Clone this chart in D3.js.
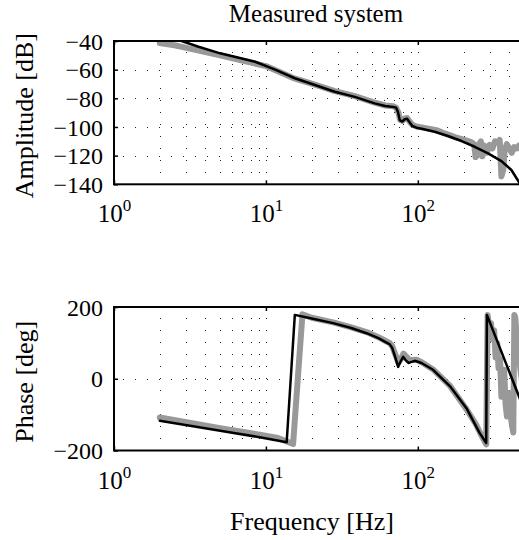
<!DOCTYPE html>
<html>
<head>
<meta charset="utf-8">
<script src="https://cdn.jsdelivr.net/npm/d3@7"></script>
<style>
  body { margin: 0; background: #fff; }
  svg, svg text { font-family: "Liberation Serif", "Times New Roman", serif; }
</style>
</head>
<body>
<div id="chart"></div>
<script>
// Bode plot of a measured system (grey) and its fitted model (black)

// amplitude, model
const modelAmpFreq = [2, 2.79, 3.6, 5, 8.5, 11.5, 15.5, 21, 28.4, 38.5, 52, 61, 69, 72, 74, 76, 79, 82, 85, 88, 92, 98, 106, 129, 158, 194, 237, 290, 355, 413, 462, 500];
const modelAmp = [-35.5, -40, -44, -48.6, -54.5, -60, -66, -70.7, -75.4, -79, -83.5, -85.4, -86, -86.6, -89.5, -95.2, -96.2, -94.6, -94.2, -96.6, -99.3, -100.5, -101.2, -103.3, -106.3, -109.8, -113.8, -118.4, -123.8, -130, -138.2, -146];

// amplitude, measured
const measAmpFreq = [2, 2.5, 3, 4, 5, 7, 10, 15, 21, 28.4, 38.5, 52, 61, 69, 72, 74.5, 76.5, 79, 82, 85, 88, 92, 98, 106, 115, 125, 135, 150, 165, 180, 195, 210, 225, 235, 240, 245, 250, 260, 266, 275, 285, 297, 310, 322, 335, 346, 355, 365, 373, 385, 401, 415, 430, 445, 462, 480, 500];
const measAmp = [-41.5, -43, -44.8, -47.7, -50, -53.7, -57.5, -65.7, -70.5, -75, -78.5, -83, -85, -85.6, -86.5, -90, -95, -95.8, -94, -93.8, -96, -98.5, -99.7, -100.3, -101, -101.8, -102.5, -104.5, -106, -107.5, -108.5, -109.5, -110.5, -112, -121, -120, -113, -110, -120.5, -113, -118, -112.5, -115, -110, -111, -109, -134.5, -130, -116, -112, -115, -118, -114, -115, -113, -116, -118];

// phase, model
const modelPhaseFreq = [2, 5, 9.1, 13.7, 15.5, 20, 27.7, 36, 46, 55, 61, 65.4, 68, 71, 74.2, 77, 80, 83, 86.7, 91, 95.5, 105.7, 126, 163, 209, 255, 282, 285, 500];
const modelPhase = [-117, -145, -163, -177, 178, 168, 155, 142, 127, 113, 103, 96, 85, 60, 33, 48, 61, 52, 44, 47, 50, 44, 25, -21, -82, -151, -179, 178, -85];

// phase, measured
const measPhaseFreq = [2, 5, 9.1, 12, 15.1, 17.4, 20, 27.7, 36, 46, 55, 61, 65.4, 68, 71, 74.5, 77.5, 80.5, 84, 88, 93, 98, 106, 126, 163, 209, 240, 262, 282, 288, 296, 303, 310, 318, 325, 333, 340, 348, 355, 362, 370, 378, 386, 395, 405, 415, 425, 432, 438, 448, 460, 475, 490, 500];
const measPhase = [-108, -138, -156, -165, -182, 180, 170, 157, 144, 130, 116, 106, 99, 90, 68, 45, 55, 70, 62, 52, 52, 53, 46, 26, -20, -85, -125, -158, -183, 178, 140, 155, 110, 135, 60, 100, 30, 55, -50, -10, 25, -70, -105, -40, -90, -125, -150, 178, 170, 120, 70, 20, -20, -50];

// ticks and labels
const freqMajor = [1, 10, 100];
const ampTicks = [-140, -120, -100, -80, -60, -40];
const phaseTicks = [-200, 0, 200];
const titleText = 'Measured system';
const ampLabel = 'Amplitude [dB]';
const phaseLabel = 'Phase [deg]';
const freqLabel = 'Frequency [Hz]';

const serif = '"Liberation Serif", "Times New Roman", serif';
const width = 519, height = 540;
const left = 114, right = 524;

const svg = d3.select('#chart').append('svg')
  .attr('width', width)
  .attr('height', height);

const x = d3.scaleLog().domain([1, 500]).range([left, right]);

function zip(fs, vs) {
  return fs.map((f, i) => [f, vs[i]]);
}

function drawPanel(id, y, yTicks, series, yLabel, labelBaseline) {
  const [y0, y1] = y.range(); // bottom, top
  const g = svg.append('g');

  g.append('clipPath').attr('id', 'clip-' + id)
    .append('rect')
    .attr('x', left).attr('y', y1)
    .attr('width', right - left).attr('height', y0 - y1);

  // dotted grid
  const grid = g.append('g')
    .attr('stroke', '#222')
    .attr('stroke-width', 1)
    .attr('stroke-dasharray', '1,11');

  grid.selectAll('.vgrid')
    .data(x.ticks().filter(d => d > 1 && d < 500))
    .enter().append('line')
    .attr('x1', d => Math.round(x(d)) + 0.5)
    .attr('x2', d => Math.round(x(d)) + 0.5)
    .attr('y1', y1 + 11)
    .attr('y2', y0);

  grid.selectAll('.hgrid')
    .data(yTicks.slice(1, -1))
    .enter().append('line')
    .attr('x1', left + 9)
    .attr('x2', right)
    .attr('y1', d => Math.round(y(d)) + 0.5)
    .attr('y2', d => Math.round(y(d)) + 0.5);

  // data
  const line = d3.line()
    .x(d => x(d[0]))
    .y(d => y(d[1]));

  const plot = g.append('g').attr('clip-path', `url(#clip-${id})`);
  series.forEach(s => {
    plot.append('path')
      .datum(s.data)
      .attr('d', line)
      .attr('fill', 'none')
      .attr('stroke', s.color)
      .attr('stroke-width', s.width)
      .attr('stroke-linejoin', 'round')
      .attr('stroke-linecap', 'round');
  });

  // axes with inward ticks
  const yAxis = g.append('g')
    .attr('transform', `translate(${left},0)`)
    .call(d3.axisLeft(y).tickValues(yTicks).tickSize(-4).tickSizeOuter(0).tickPadding(11));
  yAxis.select('.domain').remove();
  yAxis.selectAll('line').attr('stroke', '#000').attr('stroke-width', 1.5);
  yAxis.selectAll('text')
    .style('font-family', serif)
    .style('font-size', '24px')
    .attr('fill', '#000')
    .attr('dy', '0.34em');

  const yAxisR = g.append('g')
    .attr('transform', `translate(${right},0)`)
    .call(d3.axisRight(y).tickValues(yTicks).tickSize(-4).tickSizeOuter(0).tickFormat(''));
  yAxisR.select('.domain').remove();

  const xAxis = g.append('g')
    .attr('transform', `translate(0,${y0})`)
    .call(d3.axisBottom(x).tickValues(freqMajor).tickSize(-4).tickSizeOuter(0));
  xAxis.select('.domain').remove();
  xAxis.selectAll('line').attr('stroke', '#000').attr('stroke-width', 1.5);
  xAxis.selectAll('text')
    .style('font-family', serif)
    .attr('y', 38)
    .attr('dy', 0)
    .attr('fill', '#000')
    .text('')
    .each(function(d) {
      const t = d3.select(this);
      t.append('tspan').style('font-size', '25px').text('10');
      t.append('tspan').style('font-size', '17px').attr('dy', -11).text(Math.round(Math.log10(d)));
    });

  const xAxisT = g.append('g')
    .attr('transform', `translate(0,${y1})`)
    .call(d3.axisTop(x).tickValues(freqMajor).tickSize(-4).tickSizeOuter(0).tickFormat(''));
  xAxisT.select('.domain').remove();
  xAxisT.selectAll('line').attr('stroke', '#000').attr('stroke-width', 1.5);

  // box
  g.append('rect')
    .attr('x', left).attr('y', y1)
    .attr('width', right - left).attr('height', y0 - y1)
    .attr('fill', 'none')
    .attr('stroke', '#000')
    .attr('stroke-width', 2);

  // y label
  g.append('text')
    .attr('transform', `translate(${labelBaseline},${(y0 + y1) / 2 + 3}) rotate(-90)`)
    .attr('text-anchor', 'middle')
    .style('font-size', '26px')
    .text(yLabel);
}

const yAmp = d3.scaleLinear().domain([-140, -40]).range([184.3, 41]);
const yPhase = d3.scaleLinear().domain([-200, 200]).range([450.5, 307]);

drawPanel('amp', yAmp, ampTicks, [
  { data: zip(measAmpFreq, measAmp), color: '#999', width: 6 },
  { data: zip(modelAmpFreq, modelAmp), color: '#000', width: 2.5 }
], ampLabel, 33);

drawPanel('phase', yPhase, phaseTicks, [
  { data: zip(measPhaseFreq, measPhase), color: '#999', width: 6 },
  { data: zip(modelPhaseFreq, modelPhase), color: '#000', width: 2.5 }
], phaseLabel, 33);

// title and x label
svg.append('text')
  .attr('x', (left + right) / 2 - 3)
  .attr('y', 22)
  .attr('text-anchor', 'middle')
  .style('font-size', '25px')
  .text(titleText);

svg.append('text')
  .attr('x', 312)
  .attr('y', 530)
  .attr('text-anchor', 'middle')
  .style('font-size', '26px')
  .text(freqLabel);
</script>
</body>
</html>
